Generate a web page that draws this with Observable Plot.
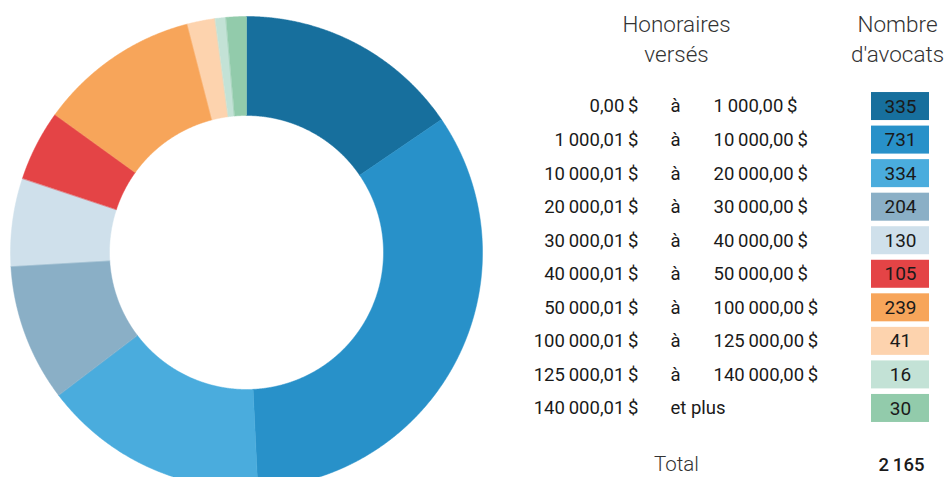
<!DOCTYPE html>
<html>
<head>
<meta charset="utf-8">
<script src="https://cdn.jsdelivr.net/npm/d3@7"></script>
<script src="https://cdn.jsdelivr.net/npm/@observablehq/plot@0.6"></script>
<style>
  html, body { margin: 0; padding: 0; background: #fff; }
  #chart { display: flex; width: 949px; height: 477px; overflow: hidden; }
  #chart svg { display: block; }
</style>
</head>
<body>
<div id="chart"></div>
<script>
// ---- Data ----
const lowerBounds = ["0,00\u2009$", "1\u2009000,01\u2009$", "10\u2009000,01\u2009$", "20\u2009000,01\u2009$", "30\u2009000,01\u2009$",
  "40\u2009000,01\u2009$", "50\u2009000,01\u2009$", "100\u2009000,01\u2009$", "125\u2009000,01\u2009$", "140\u2009000,01\u2009$"];
const separators = ["à", "à", "à", "à", "à", "à", "à", "à", "à", "et plus"];
const upperBounds = ["1\u2009000,00\u2009$", "10\u2009000,00\u2009$", "20\u2009000,00\u2009$", "30\u2009000,00\u2009$", "40\u2009000,00\u2009$",
  "50\u2009000,00\u2009$", "100\u2009000,00\u2009$", "125\u2009000,00\u2009$", "140\u2009000,00\u2009$", ""];
const counts = [335, 731, 334, 204, 130, 105, 239, 41, 16, 30];
const colors = ["#176f9d", "#2891c9", "#4aacdd", "#8aafc6", "#cfe0eb", "#e44446", "#f7a55a", "#fdd3ae", "#c3e2d6", "#92cbab"];
const headerFees = "Honoraires\nversés";
const headerCount = "Nombre\nd'avocats";
const totalLabel = "Total";
const totalValue = "2\u2009165";

const rows = lowerBounds.map((lo, i) => ({lo, sep: separators[i], hi: upperBounds[i], n: counts[i]}));
const colorScale = {type: "ordinal", domain: lowerBounds, range: colors};
const FONT = "Roboto, 'Noto Sans', sans-serif";

// ---- Donut ----
const cx = 246, cy = 252, R = 236, R0 = 137;
const arcs = d3.pie().sort(null).value(d => d.n).startAngle(0).endAngle(2 * Math.PI)(rows);
const features = arcs.map(a => {
  const pts = [];
  const n = Math.max(2, Math.ceil((a.endAngle - a.startAngle) / 0.004));
  for (let i = 0; i <= n; i++) {
    const t = a.startAngle + (a.endAngle - a.startAngle) * i / n;
    pts.push([cx + R * Math.sin(t), cy - R * Math.cos(t)]);
  }
  for (let i = n; i >= 0; i--) {
    const t = a.startAngle + (a.endAngle - a.startAngle) * i / n;
    pts.push([cx + R0 * Math.sin(t), cy - R0 * Math.cos(t)]);
  }
  pts.push(pts[0]);
  return {type: "Feature", properties: a.data, geometry: {type: "Polygon", coordinates: [pts]}};
});

const donut = Plot.plot({
  width: 520, height: 477, margin: 0,
  projection: {type: "identity"},
  color: colorScale,
  style: {background: "transparent"},
  marks: [
    Plot.geo(features, {fill: d => d.properties.lo, stroke: d => d.properties.lo, strokeWidth: 0.5})
  ]
});

// ---- Table ----
const table = Plot.plot({
  width: 429, height: 477, margin: 0,
  x: {type: "linear", domain: [0, 429], range: [0, 429], axis: null},
  y: {type: "band", domain: lowerBounds, range: [86.5, 427.5], padding: 0.165, round: false, axis: null},
  color: colorScale,
  style: {background: "transparent", fontFamily: FONT, color: "#222"},
  marks: [
    Plot.barX(rows, {x1: 351, x2: 409, y: "lo", fill: "lo"}),
    Plot.text(rows, {x: 118, y: "lo", text: "lo", textAnchor: "end", fontSize: 18.5, fontWeight: 400, fill: "#1a1a1a"}),
    Plot.text(rows, {x: 150, y: "lo", text: "sep", textAnchor: "start", fontSize: 18.5, fontWeight: 400, fill: "#1a1a1a"}),
    Plot.text(rows, {x: 193, y: "lo", text: "hi", textAnchor: "start", fontSize: 18.5, fontWeight: 400, fill: "#1a1a1a"}),
    Plot.text(rows, {x: 380, y: "lo", text: d => String(d.n), textAnchor: "middle", fontSize: 19, fontWeight: 400, fill: "#1a1a1a"}),
    Plot.text([headerFees], {x: 156, frameAnchor: "top", lineAnchor: "top", dy: 11, text: d => d, fontSize: 22.5, fontWeight: 300, lineHeight: 1.3, fill: "#333"}),
    Plot.text([headerCount], {x: 377, frameAnchor: "top", lineAnchor: "top", dy: 11, text: d => d, fontSize: 22.5, fontWeight: 300, lineHeight: 1.3, fill: "#333"}),
    Plot.text([totalLabel], {x: 156, frameAnchor: "bottom", lineAnchor: "bottom", dy: -7, text: d => d, fontSize: 20.5, fontWeight: 300, fill: "#333"}),
    Plot.text([totalValue], {x: 381, frameAnchor: "bottom", lineAnchor: "bottom", dy: -7, text: d => d, fontSize: 18.5, fontWeight: 500, fill: "#1a1a1a"})
  ]
});

document.getElementById("chart").append(donut, table);
</script>
</body>
</html>
